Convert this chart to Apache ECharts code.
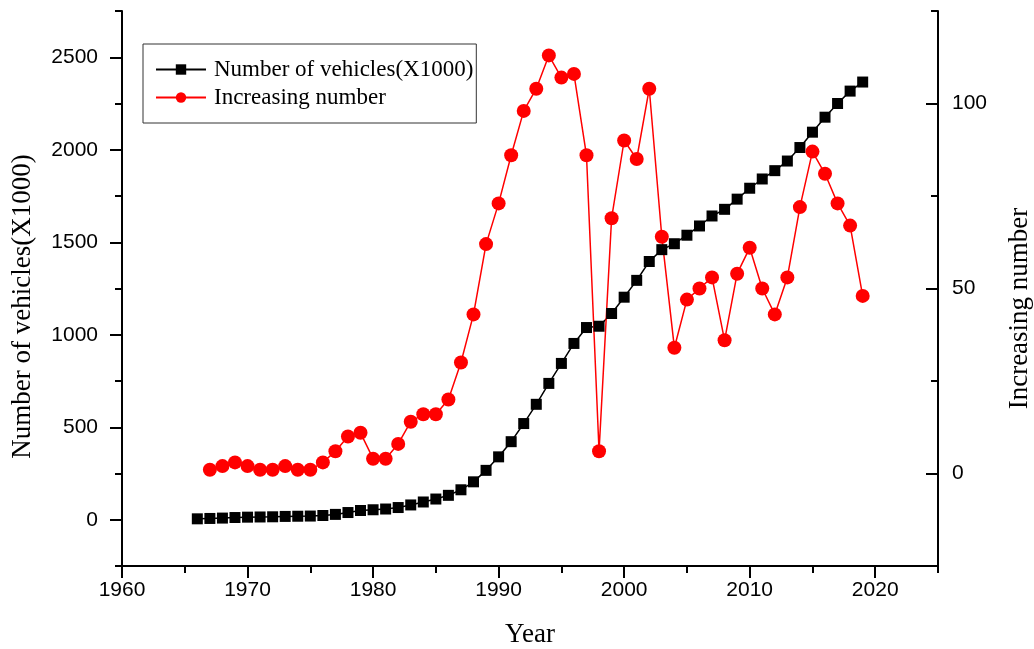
<!DOCTYPE html>
<html>
<head>
<meta charset="utf-8">
<script src="https://cdn.jsdelivr.net/npm/echarts@6/dist/echarts.min.js"></script>
<style>
html,body{margin:0;padding:0;background:#fff;overflow:hidden;}
#chart{width:1034px;height:649px;}
</style>
</head>
<body>
<div id="chart"></div>
<script>
// ---- data ----
const vehicleYears = [1966,1967,1968,1969,1970,1971,1972,1973,1974,1975,1976,1977,1978,1979,1980,1981,1982,1983,1984,1985,1986,1987,1988,1989,1990,1991,1992,1993,1994,1995,1996,1997,1998,1999,2000,2001,2002,2003,2004,2005,2006,2007,2008,2009,2010,2011,2012,2013,2014,2015,2016,2017,2018,2019];
const vehicles = [5,7,9,12,14,15,16,18,19,20,23,29,39,50,54,58,66,80,96,112,132,162,205,267,340,422,520,624,737,845,953,1039,1046,1115,1203,1294,1396,1460,1492,1538,1588,1642,1678,1733,1792,1842,1887,1939,2012,2095,2176,2250,2317,2366];
const increaseYears = [1967,1968,1969,1970,1971,1972,1973,1974,1975,1976,1977,1978,1979,1980,1981,1982,1983,1984,1985,1986,1987,1988,1989,1990,1991,1992,1993,1994,1995,1996,1997,1998,1999,2000,2001,2002,2003,2004,2005,2006,2007,2008,2009,2010,2011,2012,2013,2014,2015,2016,2017,2018,2019];
const increases = [1,2,3,2,1,1,2,1,1,3,6,10,11,4,4,8,14,16,16,20,30,43,62,73,86,98,104,113,107,108,86,6,69,90,85,104,64,34,47,50,53,36,54,61,50,43,53,72,87,81,73,67,48];
const xMajorTicks = [1960,1970,1980,1990,2000,2010,2020];
const xMinorTicks = [1965,1975,1985,1995,2005,2015,2025];
const leftMajorTicks = [0,500,1000,1500,2000,2500];
const leftMinorTicks = [-250,250,750,1250,1750,2250,2750];
const rightMajorTicks = [0,50,100];
const rightMinorTicks = [-25,25,75,125];

const seriesNames = ['Number of vehicles(X1000)','Increasing number'];

const pairs = (xs, ys) => xs.map((x, i) => [x, ys[i]]);

const chart = echarts.init(document.getElementById('chart'), null, {renderer:'canvas'});
const axisLineStyle = {color:'#000', width:2};
const tickStyle = {width:2, color:'#000'};
const plain = v => String(v);
const labelFont = {fontFamily:'Liberation Sans', fontSize:21, color:'#000', formatter:plain};
const nameFont = {fontFamily:'Liberation Serif', fontSize:27, color:'#000'};

chart.setOption({
  animation:false,
  backgroundColor:'#fff',
  grid:{left:122, right:96, top:11, bottom:83, containLabel:false, outerBoundsMode:'none'},
  legend:{
    orient:'vertical', left:143, top:44,
    padding:[14,3,14,12], itemGap:5,
    itemWidth:50, itemHeight:13,
    borderColor:'#333', borderWidth:1,
    textStyle:{fontFamily:'Liberation Serif', fontSize:23, color:'#000', padding:[0,0,0,3]},
    data:seriesNames
  },
  xAxis:[
    {type:'value', min:1960, max:2025, position:'bottom',
     axisLine:{show:true, onZero:false, lineStyle:axisLineStyle},
     axisTick:{show:true, customValues:xMajorTicks, length:12, lineStyle:tickStyle},
     axisLabel:{customValues:xMajorTicks, margin:14, ...labelFont},
     splitLine:{show:false},
     name:'Year', nameLocation:'middle', nameGap:55, nameTextStyle:nameFont},
    {type:'value', min:1960, max:2025, position:'bottom',
     axisLine:{show:false, onZero:false},
     axisTick:{show:true, customValues:xMinorTicks, length:7, lineStyle:tickStyle},
     axisLabel:{show:false}, splitLine:{show:false}}
  ],
  yAxis:[
    {type:'value', min:-250, max:2750, position:'left',
     axisLine:{show:true, onZero:false, lineStyle:axisLineStyle},
     axisTick:{show:true, customValues:leftMajorTicks, length:12, lineStyle:tickStyle},
     axisLabel:{customValues:leftMajorTicks, margin:24, ...labelFont},
     splitLine:{show:false},
     name:'Number of vehicles(X1000)', nameLocation:'middle', nameGap:86,
     nameTextStyle:{...nameFont, padding:[0,36,0,0]}},
    {type:'value', min:-250, max:2750, position:'left',
     axisLine:{show:false, onZero:false},
     axisTick:{show:true, customValues:leftMinorTicks, length:7, lineStyle:tickStyle},
     axisLabel:{show:false}, splitLine:{show:false}},
    {type:'value', min:-25, max:125, position:'right',
     axisLine:{show:true, onZero:false, lineStyle:axisLineStyle},
     axisTick:{show:true, inside:true, customValues:rightMajorTicks, length:12, lineStyle:tickStyle},
     axisLabel:{customValues:rightMajorTicks, margin:14, ...labelFont},
     splitLine:{show:false},
     name:'Increasing number', nameLocation:'middle', nameGap:68, nameRotate:90,
     nameTextStyle:{...nameFont, padding:[0,40,0,0]}},
    {type:'value', min:-25, max:125, position:'right',
     axisLine:{show:false, onZero:false},
     axisTick:{show:true, inside:true, customValues:rightMinorTicks, length:7, lineStyle:tickStyle},
     axisLabel:{show:false}, splitLine:{show:false}}
  ],
  series:[
    {name:seriesNames[0], type:'line', xAxisIndex:0, yAxisIndex:0,
     data:pairs(vehicleYears, vehicles),
     symbol:'rect', symbolSize:11, showAllSymbol:true,
     itemStyle:{color:'#000'}, lineStyle:{color:'#000', width:1.5}},
    {name:seriesNames[1], type:'line', xAxisIndex:0, yAxisIndex:2,
     data:pairs(increaseYears, increases),
     symbol:'circle', symbolSize:14, showAllSymbol:true,
     itemStyle:{color:'#ff0000'}, lineStyle:{color:'#ff0000', width:1.5}}
  ]
});
</script>
</body>
</html>
